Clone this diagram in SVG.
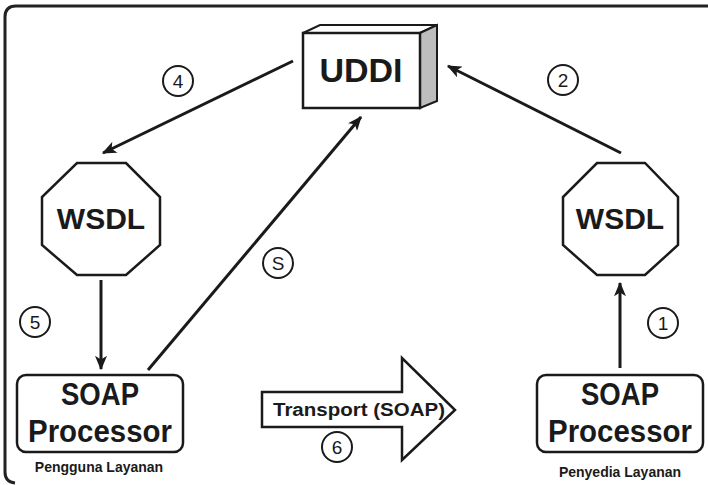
<svg xmlns="http://www.w3.org/2000/svg" width="708" height="485" viewBox="0 0 708 485">
<style>
.frame{fill:none;stroke:#222;stroke-width:3}
.box{fill:#fff;stroke:#1a1a1a;stroke-width:2.5}
.big{font-family:"Liberation Sans",Arial,sans-serif;font-weight:bold;fill:#1a1a1a;text-anchor:middle}
.small{font-family:"Liberation Sans",Arial,sans-serif;font-weight:bold;fill:#1a1a1a;text-anchor:middle;font-size:14px}
.num{font-family:"Liberation Sans",Arial,sans-serif;fill:#1a1a1a;text-anchor:middle;font-size:19px}
.circ{fill:#fff;stroke:#1a1a1a;stroke-width:2}
.conn{fill:none;stroke:#1a1a1a;stroke-width:3;marker-end:url(#ah)}
</style>
<defs>
<marker id="ah" viewBox="0 0 12 10" refX="11" refY="5" markerWidth="5" markerHeight="4" orient="auto" markerUnits="strokeWidth">
<path d="M0,0 L12,5 L0,10 L3,5 Z" fill="#1a1a1a"/>
</marker>
</defs>
<rect width="708" height="485" fill="#fff"/>
<path class="frame" d="M710,6 H16 Q5,6 5,17 V472 Q5,482 15,483"/>

<g id="connectors">
<line class="conn" x1="293" y1="61" x2="103" y2="153"/>
<line class="conn" x1="621" y1="153" x2="448" y2="66"/>
<line class="conn" x1="101" y1="280" x2="101" y2="369"/>
<line class="conn" x1="620" y1="368" x2="620" y2="283"/>
<line class="conn" x1="148" y1="370" x2="361" y2="117"/>
</g>

<g id="uddi">
<polygon points="303,33 320,25 437,25 420,33" fill="#fff" stroke="#1a1a1a" stroke-width="2"/>
<polygon points="420,33 437,25 437,101 420,108" fill="#bdbdbd" stroke="#1a1a1a" stroke-width="2"/>
<rect class="box" x="303" y="33" width="117" height="75"/>
<text class="big" x="361" y="82" font-size="34">UDDI</text>
</g>

<g id="wsdl-left">
<polygon class="box" points="77,163 126,163 160,197 160,245 126,275 77,275 42,245 42,197"/>
<text class="big" x="101" y="229" font-size="30">WSDL</text>
</g>

<g id="wsdl-right">
<polygon class="box" points="597,163 645,163 678,197 678,245 645,275 597,275 563,245 563,197"/>
<text class="big" x="620" y="229" font-size="30">WSDL</text>
</g>

<g id="soap-left">
<rect class="box" x="17" y="375" width="166" height="77" rx="9"/>
<text class="big" x="100" y="405" font-size="31" textLength="78" lengthAdjust="spacingAndGlyphs">SOAP</text>
<text class="big" x="100" y="442" font-size="31" textLength="144" lengthAdjust="spacingAndGlyphs">Processor</text>
<text class="small" x="99" y="472">Pengguna Layanan</text>
</g>

<g id="soap-right">
<rect class="box" x="537" y="375" width="166" height="77" rx="9"/>
<text class="big" x="620" y="405" font-size="31" textLength="78" lengthAdjust="spacingAndGlyphs">SOAP</text>
<text class="big" x="620" y="442" font-size="31" textLength="144" lengthAdjust="spacingAndGlyphs">Processor</text>
<text class="small" x="620" y="477">Penyedia Layanan</text>
</g>

<g id="transport">
<polygon class="box" points="262,392 402,392 402,358 455,410 402,460 402,427 262,427" stroke-width="2"/>
<text class="big" x="359" y="416" font-size="18" textLength="172" lengthAdjust="spacingAndGlyphs">Transport (SOAP)</text>
</g>

<g id="labels">
<circle class="circ" cx="178" cy="81" r="15"/><text class="num" x="178" y="88">4</text>
<circle class="circ" cx="563" cy="80" r="15"/><text class="num" x="563" y="87">2</text>
<circle class="circ" cx="35" cy="322" r="15"/><text class="num" x="35" y="329">5</text>
<circle class="circ" cx="663" cy="323" r="15"/><text class="num" x="663" y="330">1</text>
<circle class="circ" cx="278" cy="263" r="15"/><text class="num" x="278" y="270">S</text>
<circle class="circ" cx="337" cy="447" r="15"/><text class="num" x="337" y="454">6</text>
</g>
</svg>
